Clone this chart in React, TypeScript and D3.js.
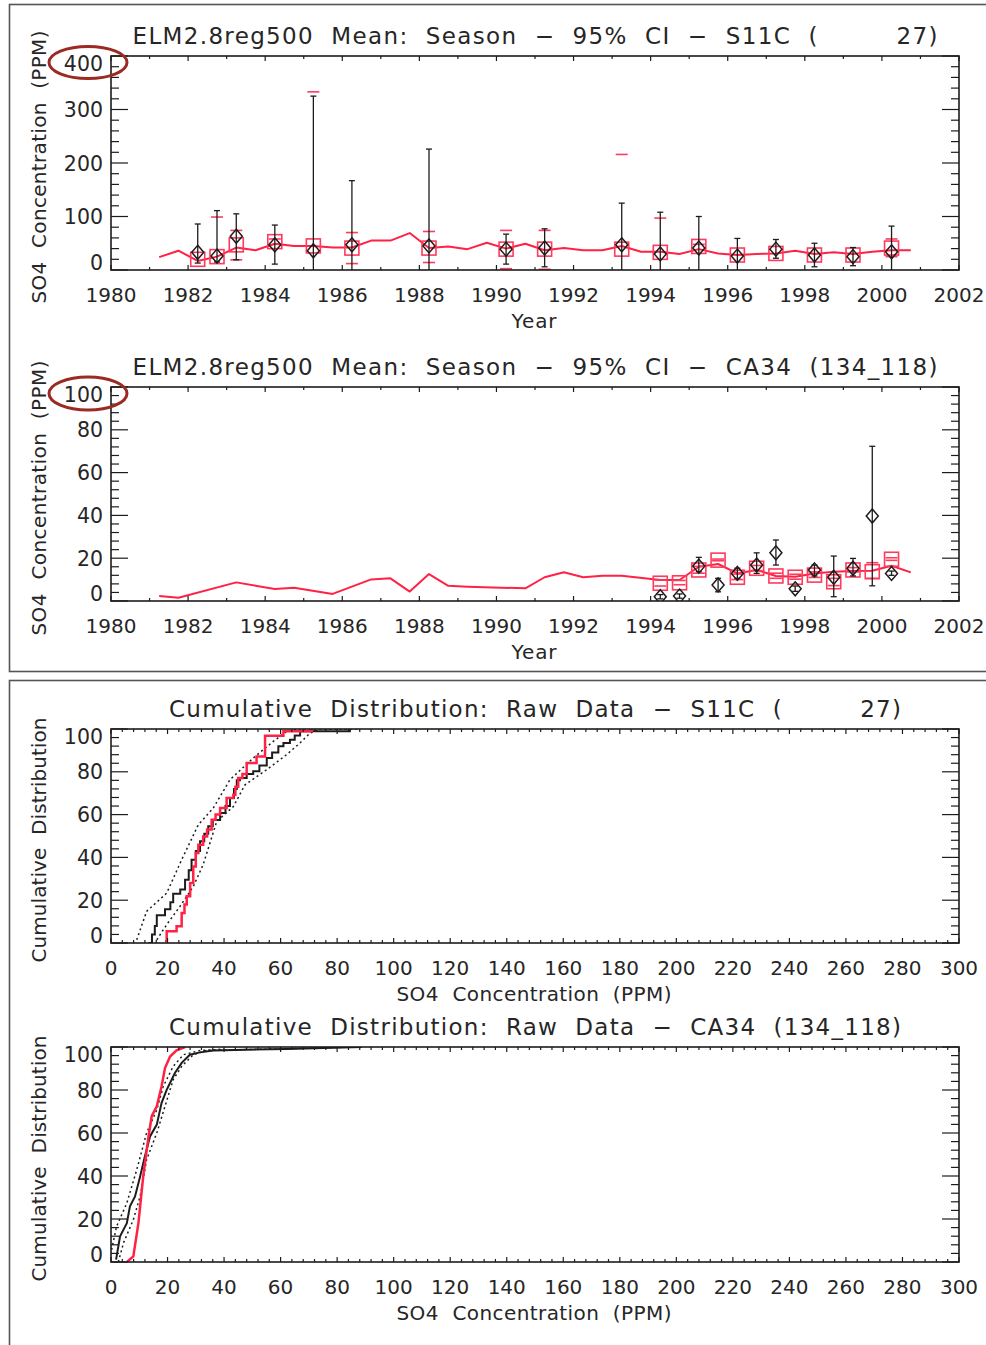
import React from 'react'
import * as d3 from 'd3'

// ---- Panel 1: S11C seasonal means (PPM) ----
const s11cLineYears = [1981.25, 1981.75, 1982.25, 1982.75, 1983.25, 1983.75, 1984.25, 1984.75, 1985.25, 1985.75,
  1986.25, 1986.75, 1987.25, 1987.75, 1988.25, 1988.75, 1989.25, 1989.75, 1990.25, 1990.75,
  1991.25, 1991.75, 1992.25, 1992.75, 1993.25, 1993.75, 1994.25, 1994.75, 1995.25, 1995.75,
  1996.25, 1996.75, 1997.25, 1997.75, 1998.25, 1998.75, 1999.25, 1999.75, 2000.25, 2000.75]
const s11cLineModel = [24, 36, 17, 25, 42, 37, 49, 45, 45, 42,
  42, 55, 55, 69, 41, 44, 39, 51, 40, 49,
  37, 41, 37, 37, 45, 34, 34, 30, 39, 31,
  28, 30, 31, 36, 30, 33, 30, 34, 37, 37]

const s11cYears = [1982.25, 1982.75, 1983.25, 1984.25, 1985.25, 1986.25, 1988.25, 1990.25, 1991.25,
  1993.25, 1994.25, 1995.25, 1996.25, 1997.25, 1998.25, 1999.25, 2000.25]
const s11cObs = [33, 26, 63, 47, 36, 47, 45, 39, 41, 47, 30, 41, 26, 39, 28, 25, 34]
const s11cObsHi = [86, 111, 105, 84, 325, 167, 226, 67, 77, 125, 108, 100, 59, 57, 50, 42, 82]
const s11cObsLo = [13, 15, 19, 11, -10, -10, -10, 11, 6, -10, -10, -10, -5, 22, 6, 8, -10]
const s11cMod = [20, 25, 47, 53, 45, 41, 41, 39, 39, 39, 33, 44, 28, 31, 28, 28, 41]
const s11cModHi = [null, 99, 74, 58, 333, 70, 72, 74, 74, 216, 97, 48, null, null, null, null, 58]
const s11cModLo = [null, null, 19, null, null, 12, 14, 2.5, 1.3, null, null, null, null, null, null, null, 25]

// ---- Panel 2: CA34 seasonal means (PPM) ----
const ca34LineYears = [1981.25, 1981.75, 1983.25, 1984.25, 1984.75, 1985.75, 1986.75, 1987.25, 1987.75, 1988.25,
  1988.75, 1989.25, 1990.75, 1991.25, 1991.75, 1992.25, 1992.75, 1993.25, 1994.25, 1994.75,
  1995.25, 1995.75, 1996.25, 1996.75, 1997.25, 1997.75, 1998.25, 1998.75, 1999.25, 1999.75,
  2000.25, 2000.75]
const ca34LineModel = [2.3, 1.5, 8.7, 5.6, 6.2, 3.3, 10.1, 10.6, 4.4, 12.6,
  7.1, 6.7, 5.9, 11.1, 13.4, 11.1, 11.8, 11.8, 9.8, 9.8,
  16, 17.3, 12.9, 14.5, 11.7, 11.3, 12.9, 13.7, 14, 14.1,
  16.5, 13.4]

const ca34Years = [1994.25, 1994.75, 1995.25, 1995.75, 1996.25, 1996.75, 1997.25, 1997.75, 1998.25,
  1998.75, 1999.25, 1999.75, 2000.25]
const ca34Obs = [2, 2.3, 16.3, 7.5, 12.9, 16.8, 22.5, 5.7, 14.5, 11.1, 15.3, 39.7, 12.9]
const ca34ObsHi = [3, 3.3, 20.4, 10.6, 15.3, 22.5, 28.5, 7, 16.8, 21, 19.9, 72.3, 14]
const ca34ObsLo = [1, 1.3, 13.7, 4.3, 10.6, 12.9, 16.8, 4.5, 11.7, 2, 11.7, 7.1, 12]
const ca34Mod = [8.3, 8.5, 14.5, 19.1, 11.1, 15.3, 11.7, 11.1, 12.1, 9, 14.5, 13.7, 19.5]
const ca34ModHi = [9.8, 9.6, 16.2, 19.6, 12.6, 16.6, 13, 12.5, 13.6, 10.6, 15.6, 17.9, 20.2]
const ca34ModLo = [7, 7.6, 13, 18.8, 10, 14.2, 10.6, 10.2, 11, 7.2, 13.6, 10.6, 19]

// ---- Panel 3: S11C cumulative distribution (conc PPM, percent) ----
const s11cCdfObsX = [13.2, 14.5, 15.5, 16.2, 19.1, 21, 22, 24.5, 26.2, 27.5, 28.5, 30, 31.5, 33, 34.4, 36, 38.6,
  40.5, 42.1, 43.5, 44.5, 45.6, 48, 50.3, 52.5, 55.1, 57, 59.2, 61, 63.3, 65, 66.9, 84.5]
const s11cCdfObsP = [0, 4, 8, 13, 15.8, 19, 23, 25, 29.6, 34, 38.9, 43, 47.5, 51, 54.5, 57.5, 60.7,
  64, 67.8, 72, 76, 77.1, 79, 80.2, 83, 86.4, 89, 91.9, 93.5, 95, 97, 98.9, 100]
const s11cCdfModX = [19.1, 19.7, 23.2, 25, 26, 26.8, 28, 29.1, 30, 30.9, 32.6, 34, 35.6, 37, 38.6, 40.9, 43.3,
  44, 45, 46.5, 48, 51.5, 54.5, 61, 71]
const s11cCdfModP = [0.8, 5.5, 7.8, 14, 18, 21.8, 28, 35.8, 42, 45.9, 49.8, 53, 57.6, 60, 63.1, 67.8, 69.3,
  73, 77.1, 79, 84.1, 87.2, 96.9, 98.9, 100]
const s11cCdfLoX = [9.1, 12.6, 19.7, 25, 30.9, 36.2, 42.1, 50.3, 57.4, 62.1, 66, 84]
const s11cCdfLoP = [1.5, 14.8, 23.3, 38.9, 55.3, 63.1, 76.3, 86.4, 94.2, 98.9, 100, 100]
const s11cCdfHiX = [16.2, 19.7, 24.4, 29.1, 32.6, 37.4, 43.3, 47.4, 55.1, 62.1, 66.9, 70.4, 74, 88]
const s11cCdfHiP = [1.5, 8.6, 17.1, 26.4, 36.6, 56.8, 63.8, 73.9, 81, 88, 93.5, 98.1, 100, 100]

// ---- Panel 4: CA34 cumulative distribution ----
const ca34CdfObsX = [1.8, 3.2, 5.6, 6.7, 8.5, 10.3, 11.7, 13.8, 16.2, 17.9, 19.7, 22.6, 25, 27.9, 31.5, 36.2, 62.1, 88.7]
const ca34CdfObsP = [1.1, 11.9, 18.1, 25.9, 30.5, 39.8, 47.6, 58.4, 63.9, 74, 80.1, 87.9, 92.6, 96.4, 97.5, 98.4, 99.1, 100]
const ca34CdfModX = [5.6, 7.9, 9.7, 11.4, 13.2, 14.4, 16.2, 17.9, 19.1, 20.9, 23.2, 26.2]
const ca34CdfModP = [0, 2.6, 18.1, 39.8, 57.7, 67.8, 72.4, 81.7, 90.2, 95.6, 98.4, 100]
const ca34CdfLoX = [0.2, 2, 5.6, 9.1, 12.6, 16.2, 18.5, 22, 25.6, 31.5, 40]
const ca34CdfLoP = [5.7, 16.6, 27.4, 42.9, 60, 70.8, 81.7, 91, 96.4, 98.4, 99]
const ca34CdfHiX = [2.6, 4.4, 7.9, 10.3, 12.6, 16.2, 19.1, 22, 25, 29.1, 33.9, 62, 86.9]
const ca34CdfHiP = [0, 8.8, 19.7, 30.5, 47.6, 60, 72.4, 84.8, 91, 96.4, 98.4, 99.2, 100]

const FONT = "'DejaVu Sans', 'Liberation Sans', sans-serif"
const INK = '#1c1c1c'
const TXT = '#262626'
const RED = '#ff2244'
const PINK = '#ff3a5c'
const LEFT = 111
const RIGHT = 959

const isMajor = (v, step) => Math.abs(v / step - Math.round(v / step)) < 1e-6

function Panel(props) {
  const { id, top, bottom, xDomain, yDomain, xMajor, xMinor, yMajor, yMinor, title, titleLen,
    xLabel, xLabelLen, yLabel, yLabelLen, xFmt, children } = props
  const x = d3.scaleLinear().domain(xDomain).range([LEFT, RIGHT])
  const y = d3.scaleLinear().domain(yDomain).range([bottom, top])
  const xTicks = d3.range(xDomain[0], xDomain[1] + 1e-6, xMinor)
  const yTicks = d3.range(yDomain[0], yDomain[1] + 1e-6, yMinor)
  const yLabels = d3.range(yDomain[0], yDomain[1] + 1e-6, yMajor)
  const xLabels = d3.range(xDomain[0], xDomain[1] + 1e-6, xMajor)
  const midY = (top + bottom) / 2
  return (
    <g>
      <clipPath id={id}>
        <rect x={LEFT} y={top} width={RIGHT - LEFT} height={bottom - top} />
      </clipPath>
      <g clipPath={`url(#${id})`}>{children(x, y)}</g>
      <rect x={LEFT} y={top} width={RIGHT - LEFT} height={bottom - top} fill="none" stroke={INK} strokeWidth={1.6} />
      {xTicks.map(v => {
        const len = isMajor(v, xMajor) ? 5 : 3
        return (
          <g key={'xt' + v} stroke={INK} strokeWidth={1.2}>
            <line x1={x(v)} x2={x(v)} y1={bottom} y2={bottom - len} />
            <line x1={x(v)} x2={x(v)} y1={top} y2={top + len} />
          </g>
        )
      })}
      {yTicks.map(v => {
        const len = isMajor(v, yMajor) ? 17 : 8
        return (
          <g key={'yt' + v} stroke={INK} strokeWidth={1.2}>
            <line x1={LEFT} x2={LEFT + len} y1={y(v)} y2={y(v)} />
            <line x1={RIGHT} x2={RIGHT - len} y1={y(v)} y2={y(v)} />
          </g>
        )
      })}
      <g fontFamily={FONT} fontSize={20} fill={TXT}>
        {xLabels.map(v => (
          <text key={'xl' + v} x={x(v)} y={bottom + 31.5} textAnchor="middle">{xFmt(v)}</text>
        ))}
        {yLabels.map(v => {
          const cy = Math.min(Math.max(y(v), top + 7), bottom - 8)
          return (
            <text key={'yl' + v} x={103} y={cy + 7.5} textAnchor="end" fontSize={20.5}>{v}</text>
          )
        })}
        <text x={535} y={top - 12} textAnchor="middle" fontSize={23} textLength={titleLen}
          lengthAdjust="spacing" style={{ whiteSpace: 'pre' }}>{title}</text>
        <text x={534} y={bottom + 58} textAnchor="middle" textLength={xLabelLen}
          lengthAdjust="spacing" style={{ whiteSpace: 'pre' }}>{xLabel}</text>
        <text transform={`translate(46,${midY + 4}) rotate(-90)`} textAnchor="middle" textLength={yLabelLen}
          lengthAdjust="spacing" style={{ whiteSpace: 'pre' }}>{yLabel}</text>
      </g>
    </g>
  )
}

const diamond = (cx, cy) => `M${cx},${cy - 7}L${cx + 6},${cy}L${cx},${cy + 7}L${cx - 6},${cy}Z`

function SeasonMarks({ x, y, lineYears, lineVals, years, obs, obsHi, obsLo, mod, modHi, modLo }) {
  const line = d3.line().x(d => x(d[0])).y(d => y(d[1]))
  const pts = lineYears.map((yr, i) => [yr, lineVals[i]])
  return (
    <g>
      <path d={line(pts)} fill="none" stroke={RED} strokeWidth={2} strokeLinejoin="round" />
      {years.map((yr, i) => (
        <g key={'m' + i} stroke={PINK} strokeWidth={1.6} fill="none">
          <rect x={x(yr) - 7} y={y(mod[i]) - 7} width={14} height={14} />
          {modHi[i] != null && <line x1={x(yr) - 6} x2={x(yr) + 6} y1={y(modHi[i])} y2={y(modHi[i])} />}
          {modLo[i] != null && <line x1={x(yr) - 6} x2={x(yr) + 6} y1={y(modLo[i])} y2={y(modLo[i])} />}
        </g>
      ))}
      {years.map((yr, i) => (
        <g key={'o' + i} stroke={INK} strokeWidth={1.3} fill="none">
          <line x1={x(yr)} x2={x(yr)} y1={y(obsLo[i])} y2={y(obsHi[i])} />
          <line x1={x(yr) - 3} x2={x(yr) + 3} y1={y(obsHi[i])} y2={y(obsHi[i])} />
          <line x1={x(yr) - 3} x2={x(yr) + 3} y1={y(obsLo[i])} y2={y(obsLo[i])} />
          <path d={diamond(x(yr), y(obs[i]))} strokeWidth={1.5} />
        </g>
      ))}
    </g>
  )
}

function CdfMarks({ x, y, obsX, obsP, modX, modP, loX, loP, hiX, hiP, step }) {
  const curve = step ? d3.curveStepAfter : d3.curveLinear
  const line = d3.line().x(d => x(d[0])).y(d => y(d[1])).curve(curve)
  const dots = d3.line().x(d => x(d[0])).y(d => y(d[1]))
  const zip = (a, b) => a.map((v, i) => [v, b[i]])
  return (
    <g fill="none">
      <path d={dots(zip(loX, loP))} stroke={INK} strokeWidth={1.5} strokeDasharray="2,3" />
      <path d={dots(zip(hiX, hiP))} stroke={INK} strokeWidth={1.5} strokeDasharray="2,3" />
      <path d={line(zip(obsX, obsP))} stroke={INK} strokeWidth={2} />
      <path d={line(zip(modX, modP))} stroke={RED} strokeWidth={2.5} />
    </g>
  )
}

export default function App() {
  const yearFmt = v => String(v)
  const concFmt = v => String(v)
  return (
    <svg width={986} height={1345} style={{ position: 'absolute', left: 0, top: 0, background: '#fff' }}>
      <rect x={0} y={0} width={986} height={1345} fill="#fff" />
      <rect x={9.5} y={4.5} width={1000} height={667} fill="none" stroke="#555" strokeWidth={1.6} />
      <rect x={9.5} y={680.5} width={1000} height={700} fill="none" stroke="#555" strokeWidth={1.6} />

      <Panel id="c1" top={56} bottom={270} xDomain={[1980, 2002]} yDomain={[0, 400]}
        xMajor={2} xMinor={1} yMajor={100} yMinor={20} xFmt={yearFmt}
        title="ELM2.8reg500  Mean:  Season  −  95%  CI  −  S11C  (         27)" titleLen={805}
        xLabel="Year" xLabelLen={45} yLabel="SO4  Concentration  (PPM)" yLabelLen={273}>
        {(x, y) => (
          <SeasonMarks x={x} y={y} lineYears={s11cLineYears} lineVals={s11cLineModel}
            years={s11cYears} obs={s11cObs} obsHi={s11cObsHi} obsLo={s11cObsLo}
            mod={s11cMod} modHi={s11cModHi} modLo={s11cModLo} />
        )}
      </Panel>

      <Panel id="c2" top={387} bottom={601} xDomain={[1980, 2002]} yDomain={[0, 100]}
        xMajor={2} xMinor={1} yMajor={20} yMinor={4} xFmt={yearFmt}
        title="ELM2.8reg500  Mean:  Season  −  95%  CI  −  CA34  (134_118)" titleLen={805}
        xLabel="Year" xLabelLen={45} yLabel="SO4  Concentration  (PPM)" yLabelLen={275}>
        {(x, y) => (
          <SeasonMarks x={x} y={y} lineYears={ca34LineYears} lineVals={ca34LineModel}
            years={ca34Years} obs={ca34Obs} obsHi={ca34ObsHi} obsLo={ca34ObsLo}
            mod={ca34Mod} modHi={ca34ModHi} modLo={ca34ModLo} />
        )}
      </Panel>

      <Panel id="c3" top={729} bottom={943} xDomain={[0, 300]} yDomain={[0, 100]}
        xMajor={20} xMinor={4} yMajor={20} yMinor={4} xFmt={concFmt}
        title="Cumulative  Distribution:  Raw  Data  −  S11C  (         27)" titleLen={732}
        xLabel="SO4  Concentration  (PPM)" xLabelLen={275} yLabel="Cumulative  Distribution" yLabelLen={245}>
        {(x, y) => (
          <CdfMarks x={x} y={y} step obsX={s11cCdfObsX} obsP={s11cCdfObsP} modX={s11cCdfModX} modP={s11cCdfModP}
            loX={s11cCdfLoX} loP={s11cCdfLoP} hiX={s11cCdfHiX} hiP={s11cCdfHiP} />
        )}
      </Panel>

      <Panel id="c4" top={1047} bottom={1262} xDomain={[0, 300]} yDomain={[0, 100]}
        xMajor={20} xMinor={4} yMajor={20} yMinor={4} xFmt={concFmt}
        title="Cumulative  Distribution:  Raw  Data  −  CA34  (134_118)" titleLen={732}
        xLabel="SO4  Concentration  (PPM)" xLabelLen={275} yLabel="Cumulative  Distribution" yLabelLen={246}>
        {(x, y) => (
          <CdfMarks x={x} y={y} step={false} obsX={ca34CdfObsX} obsP={ca34CdfObsP} modX={ca34CdfModX} modP={ca34CdfModP}
            loX={ca34CdfLoX} loP={ca34CdfLoP} hiX={ca34CdfHiX} hiP={ca34CdfHiP} />
        )}
      </Panel>

      <ellipse cx={88} cy={62.5} rx={39} ry={16} fill="none" stroke="#9b2a22" strokeWidth={3} />
      <ellipse cx={88} cy={393.5} rx={39} ry={16.5} fill="none" stroke="#9b2a22" strokeWidth={3} />
    </svg>
  )
}
